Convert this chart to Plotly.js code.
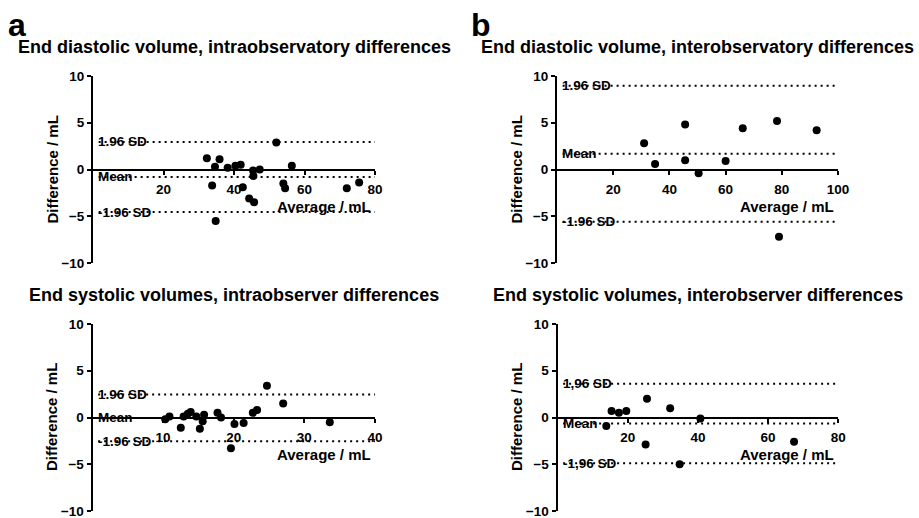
<!DOCTYPE html>
<html><head><meta charset="utf-8">
<script src="https://cdn.plot.ly/plotly-3.0.1.min.js"></script>
<style>html,body{margin:0;padding:0;background:#fff}#chart{width:919px;height:518px}</style>
</head><body><div id="chart"></div>
<script>
// ---- Data ----
// a, top: End diastolic volume, intraobservatory differences
const edvIntraAvg  = [32.3,34.6,35.9,33.8,34.8,38.2,40.4,41.9,42.5,44.3,45.7,45.4,45.5,47.3,52.0,54.0,54.5,56.4,72.0,75.5];
const edvIntraDiff = [1.2,0.3,1.1,-1.7,-5.5,0.2,0.4,0.5,-1.9,-3.1,-3.5,-0.1,-0.7,0.0,2.9,-1.5,-2.0,0.4,-2.0,-1.4];
const edvIntraLimits = [2.95,-0.8,-4.55];   // +1.96 SD, mean, -1.96 SD

// b, top: End diastolic volume, interobservatory differences
const edvInterAvg  = [31.0,34.9,45.6,45.6,50.4,60.0,66.1,78.3,79.0,92.4];
const edvInterDiff = [2.8,0.6,4.8,1.0,-0.4,0.9,4.4,5.2,-7.2,4.2];
const edvInterLimits = [8.95,1.68,-5.6];

// a, bottom: End systolic volumes, intraobserver differences
const esvIntraAvg  = [10.3,10.9,12.5,12.9,13.5,13.9,14.7,15.2,15.6,15.8,17.7,18.2,19.6,20.1,21.4,22.7,23.3,24.7,27.0,33.6];
const esvIntraDiff = [-0.2,0.1,-1.1,0.1,0.4,0.6,0.1,-1.2,-0.4,0.3,0.5,0.0,-3.3,-0.7,-0.6,0.5,0.8,3.4,1.5,-0.5];
const esvIntraLimits = [2.45,-0.05,-2.55];

// b, bottom: End systolic volumes, interobserver differences
const esvInterAvg  = [13.9,15.4,17.5,19.6,25.5,25.1,32.1,34.8,40.7,67.4];
const esvInterDiff = [-0.9,0.7,0.5,0.7,2.0,-2.9,1.0,-5.0,-0.1,-2.6];
const esvInterLimits = [3.6,-0.64,-4.88];

const panelTitles = [
  "End diastolic volume, intraobservatory differences",
  "End diastolic volume, interobservatory differences",
  "End systolic volumes, intraobserver differences",
  "End systolic volumes, interobserver differences"
];
const limitLabelsDot   = ["1.96 SD","Mean","-1.96 SD"];
const limitLabelsComma = ["1,96 SD","Mean","-1,96 SD"];
const xTicks1 = [20,40,60,80];
const xTicks2 = [20,40,60,80,100];
const xTicks3 = [10,20,30,40];
const xTicks4 = [20,40,60,80];
const yTicks  = [-10,-5,0,5,10];
const xMax = [80,100,40,80];
const yRange = [-10,10];
const xTitle = "Average / mL";
const yTitle = "Difference / mL";
const panelLetters = ["a","b"];

// ---- Build ----
const W = 919, H = 518;
const FONT = 'Arial, "Liberation Sans", sans-serif';
const panels = [
  {avg:edvIntraAvg, diff:edvIntraDiff, lim:edvIntraLimits, labels:limitLabelsDot,   ticks:xTicks1, xmax:xMax[0], px:[93,375],   py:[76,263]},
  {avg:edvInterAvg, diff:edvInterDiff, lim:edvInterLimits, labels:limitLabelsDot,   ticks:xTicks2, xmax:xMax[1], px:[557,838],  py:[76,263]},
  {avg:esvIntraAvg, diff:esvIntraDiff, lim:esvIntraLimits, labels:limitLabelsDot,   ticks:xTicks3, xmax:xMax[2], px:[92.5,375], py:[324,511]},
  {avg:esvInterAvg, diff:esvInterDiff, lim:esvInterLimits, labels:limitLabelsComma, ticks:xTicks4, xmax:xMax[3], px:[557.5,838.3], py:[324,511]}
];

const traces = [];
const layout = {
  width: W, height: H,
  margin: {l:0, r:0, t:0, b:0},
  paper_bgcolor: '#fff', plot_bgcolor: 'rgba(0,0,0,0)',
  showlegend: false,
  font: {family: FONT, color: '#000', size: 13},
  annotations: []
};

panels.forEach((p, i) => {
  const n = i + 1;
  const xa = 'x' + (n === 1 ? '' : n), ya = 'y' + (n === 1 ? '' : n);
  const xk = 'xaxis' + (n === 1 ? '' : n), yk = 'yaxis' + (n === 1 ? '' : n);
  const xd = [p.px[0] / W, p.px[1] / W];
  const yd = [1 - p.py[1] / H, 1 - p.py[0] / H];

  // limit lines (dotted)
  p.lim.forEach(v => {
    traces.push({
      type: 'scatter', mode: 'lines', xaxis: xa, yaxis: ya,
      x: [p.xmax * 0.02, p.xmax], y: [v, v],
      line: {color: '#000', width: 2, dash: '2px,4px'},
      hoverinfo: 'skip'
    });
  });
  // data points
  traces.push({
    type: 'scatter', mode: 'markers', xaxis: xa, yaxis: ya,
    x: p.avg, y: p.diff,
    marker: {color: '#000', size: 8, line: {width: 0}},
    cliponaxis: false
  });

  layout[xk] = {
    domain: xd, range: [0, p.xmax], anchor: 'free',
    position: (yd[0] + yd[1]) / 2,
    showline: true, linewidth: 2, linecolor: '#000',
    ticks: 'outside', ticklen: 4, tickwidth: 2, tickcolor: '#000',
    tickvals: p.ticks, ticklabelstandoff: 3, ticklabeloverflow: 'allow',
    tickfont: {family: FONT, size: 13.5, color: '#000', weight: 'bold'},
    showgrid: false, zeroline: false, fixedrange: true
  };
  layout[yk] = {
    domain: yd, range: yRange, anchor: xa,
    showline: true, linewidth: 2, linecolor: '#000',
    ticks: 'outside', ticklen: 4, tickwidth: 2, tickcolor: '#000',
    tickvals: yTicks, ticklabeloverflow: 'allow',
    tickfont: {family: FONT, size: 13.5, color: '#000', weight: 'bold'},
    showgrid: false, zeroline: false, fixedrange: true
  };

  const xdom = xa + ' domain', ydom = ya + ' domain';
  // panel title
  layout.annotations.push({
    text: panelTitles[i], xref: xdom, yref: ydom, x: 0.5, y: 1,
    xanchor: 'center', yanchor: 'middle', yshift: 29, showarrow: false,
    font: {family: FONT, size: 18, color: '#000', weight: 'bold'}
  });
  // limit labels
  p.lim.forEach((v, k) => {
    layout.annotations.push({
      text: p.labels[k], xref: xdom, yref: ya, x: 0, y: v,
      xanchor: 'left', yanchor: 'middle', xshift: 3, showarrow: false,
      font: {family: FONT, size: 13.5, color: '#000', weight: 'bold'}
    });
  });
  // x title (inside plot, GraphPad style)
  layout.annotations.push({
    text: xTitle, xref: xdom, yref: ya, x: 1, y: -4,
    xanchor: 'right', yanchor: 'middle', xshift: -2, showarrow: false,
    font: {family: FONT, size: 15, color: '#000', weight: 'bold'}
  });
  // y title
  layout.annotations.push({
    text: yTitle, xref: xdom, yref: ydom, x: 0, y: 0.5,
    xanchor: 'center', yanchor: 'middle', xshift: -41, textangle: -90, showarrow: false,
    font: {family: FONT, size: 15, color: '#000', weight: 'bold'}
  });
});

// panel letters
layout.annotations.push({
  text: panelLetters[0], xref: 'paper', yref: 'paper', x: 6 / W, y: 1 - 25 / H,
  xanchor: 'left', yanchor: 'middle', showarrow: false,
  font: {family: FONT, size: 32, color: '#000', weight: 'bold'}
});
layout.annotations.push({
  text: panelLetters[1], xref: 'paper', yref: 'paper', x: 469 / W, y: 1 - 25 / H,
  xanchor: 'left', yanchor: 'middle', showarrow: false,
  font: {family: FONT, size: 32, color: '#000', weight: 'bold'}
});

Plotly.newPlot('chart', traces, layout, {staticPlot: true, displayModeBar: false});
</script>
</body></html>
